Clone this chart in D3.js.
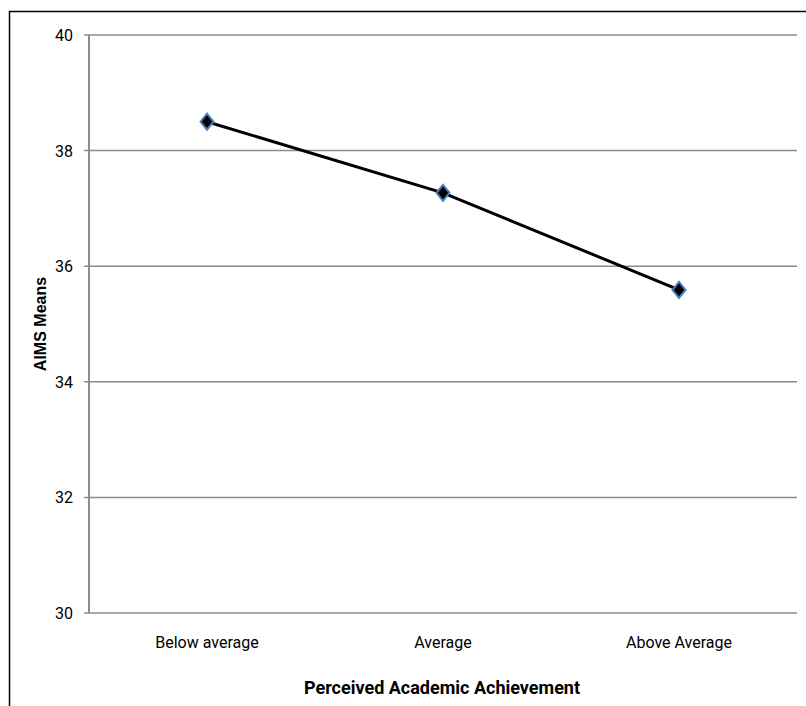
<!DOCTYPE html>
<html>
<head>
<meta charset="utf-8">
<script src="https://cdn.jsdelivr.net/npm/d3@7"></script>
<style>
  html, body { margin: 0; padding: 0; background: #fff; }
  svg { display: block; }
</style>
</head>
<body>
<svg id="chart" width="806" height="706"></svg>
<script>
// data
const categories = ["Below average", "Average", "Above Average"];
const means = [38.5, 37.27, 35.59];
const yTicks = [30, 32, 34, 36, 38, 40];

const svg = d3.select("#chart");
const W = 806, H = 706;
const margin = { top: 35, right: 9, bottom: 93, left: 89 };
const plotW = W - margin.left - margin.right;
const plotH = H - margin.top - margin.bottom;

const tickFont = "Roboto, 'Open Sans', sans-serif";

// outer frame (left + top edges visible)
svg.append("line").attr("x1", 9.5).attr("x2", 9.5).attr("y1", 11).attr("y2", H)
    .attr("stroke", "#000").attr("stroke-width", 1.5);
svg.append("line").attr("x1", 9).attr("x2", W).attr("y1", 11.5).attr("y2", 11.5)
    .attr("stroke", "#000").attr("stroke-width", 1.5);

const g = svg.append("g").attr("transform", `translate(${margin.left},${margin.top})`);

const x = d3.scaleBand().domain(categories).range([0, plotW]);
const y = d3.scaleLinear().domain([30, 40]).range([plotH, 0]);

// gridlines
g.append("g").selectAll("line").data(yTicks).join("line")
    .attr("x1", -5).attr("x2", plotW)
    .attr("y1", d => y(d)).attr("y2", d => y(d))
    .attr("stroke", "#8c8c8c").attr("stroke-width", 1.5);

// y axis line
g.append("line").attr("x1", 0).attr("x2", 0).attr("y1", 0).attr("y2", plotH)
    .attr("stroke", "#8c8c8c").attr("stroke-width", 2);

// y tick labels
g.append("g").selectAll("text").data(yTicks).join("text")
    .attr("x", -16).attr("y", d => y(d) + 6)
    .attr("text-anchor", "end")
    .attr("font-family", tickFont).attr("font-size", "16px").attr("fill", "#000")
    .text(d => d);

// x tick labels
g.append("g").selectAll("text").data(categories).join("text")
    .attr("x", d => x(d) + x.bandwidth() / 2).attr("y", plotH + 35)
    .attr("text-anchor", "middle")
    .attr("font-family", tickFont).attr("font-size", "16px").attr("fill", "#000")
    .text(d => d);

// line
const pts = categories.map((c, i) => [x(c) + x.bandwidth() / 2, y(means[i])]);
g.append("path")
    .attr("d", d3.line()(pts))
    .attr("fill", "none").attr("stroke", "#000").attr("stroke-width", 3);

// diamond markers
g.append("g").selectAll("path").data(pts).join("path")
    .attr("transform", d => `translate(${d[0]},${d[1]})`)
    .attr("d", "M0,-8L6.5,0L0,8L-6.5,0Z")
    .attr("fill", "#000").attr("stroke", "#4a7ebb").attr("stroke-width", 2);

// axis titles
svg.append("text")
    .attr("x", margin.left + plotW / 2 - 1).attr("y", 694)
    .attr("text-anchor", "middle")
    .attr("font-family", tickFont).attr("font-weight", "bold").attr("font-size", "18px")
    .text("Perceived Academic Achievement");

svg.append("text")
    .attr("transform", `translate(46, ${margin.top + plotH / 2}) rotate(-90)`)
    .attr("text-anchor", "middle")
    .attr("font-family", "'Liberation Sans', Arial, sans-serif").attr("font-weight", "bold").attr("font-size", "16px")
    .text("AIMS Means");
</script>
</body>
</html>
